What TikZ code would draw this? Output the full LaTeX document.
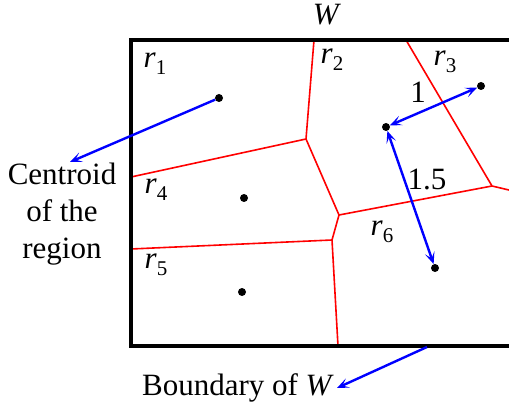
\documentclass[tikz,border=0pt]{standalone}
\usepackage{fontspec}
\setmainfont{Liberation Serif}
\usetikzlibrary{arrows.meta}
\newcommand\rlab[1]{\textit{r}\raisebox{-7pt}{\fontsize{21}{21}\selectfont #1}}
\begin{document}
\begin{tikzpicture}[x=1pt,y=-1pt,
  dot/.style={circle,fill=black,inner sep=0pt,minimum size=8pt},
  redline/.style={red,line width=1.6pt},
  bline/.style={blue,line width=2.4pt},
  bltip/.tip={Stealth[length=12pt,width=10pt,inset=6pt]},
  lab/.style={font=\fontsize{31}{37}\selectfont,inner sep=0pt},
  boxline/.style={black,line width=4pt}]
\useasboundingbox (0,0) rectangle (509,409);
\clip (0,0) rectangle (509,409);
% vertices
\coordinate (t2) at (314,40);
\coordinate (v1) at (306,139);
\coordinate (l4) at (131,177);
\coordinate (v2) at (339,215);
\coordinate (v3) at (332,240);
\coordinate (l5) at (131,249);
\coordinate (b6) at (338,346);
\coordinate (t3) at (406,40);
\coordinate (v4) at (492,186);
\coordinate (rr) at (530,195);
% red cell boundaries
\draw[redline] (t2) -- (v1) -- (l4);
\draw[redline] (v1) -- (v2) -- (v3) -- (l5);
\draw[redline] (v3) -- (b6);
\draw[redline] (t3) -- (v4) -- (rr);
\draw[redline] (v4) -- (v2);
% box W
\coordinate (wtr) at (530,40);
\coordinate (wtl) at (131,40);
\coordinate (wbl) at (131,346);
\coordinate (wbr) at (530,346);
\draw[boxline,line join=miter] (wtr) -- (wtl) -- (wbl) -- (wbr);
% centroids
\node[dot] (c1) at (219,98) {};
\node[dot] (c2) at (386,127) {};
\node[dot] (c3) at (481,86) {};
\node[dot] (c4) at (244,198) {};
\node[dot] (c5) at (242,292) {};
\node[dot] (c6) at (435,268) {};
% labels
\node[lab] (W) at (327,15) {\textit{W}};
\node[lab] (r1) at (155,64) {\rlab{1}};
\node[lab] (r2) at (332,60) {\rlab{2}};
\node[lab] (r3) at (445,62) {\rlab{3}};
\node[lab] (r4) at (156,190) {\rlab{4}};
\node[lab] (r5) at (156,265) {\rlab{5}};
\node[lab] (r6) at (382,232) {\rlab{6}};
\node[lab] (d1) at (418,92) {1};
\node[lab] (d15) at (427,179) {1.5};
\node[lab,align=center] (ctext) at (62,214) {Centroid\\of the\\region};
\node[lab] (btext) at (238,388) {Boundary of \textit{W}};
% arrows
\coordinate (ctip) at (70,162);
\coordinate (bstart) at (427,347);
\coordinate (btip) at (337,388);
\draw[bline,-bltip] (c1) -- (ctip);
\draw[bline,bltip-bltip] (c2) -- (c3);
\draw[bline,bltip-bltip] (c2) -- (c6);
\draw[bline,-bltip] (bstart) -- (btip);
\end{tikzpicture}
\end{document}
